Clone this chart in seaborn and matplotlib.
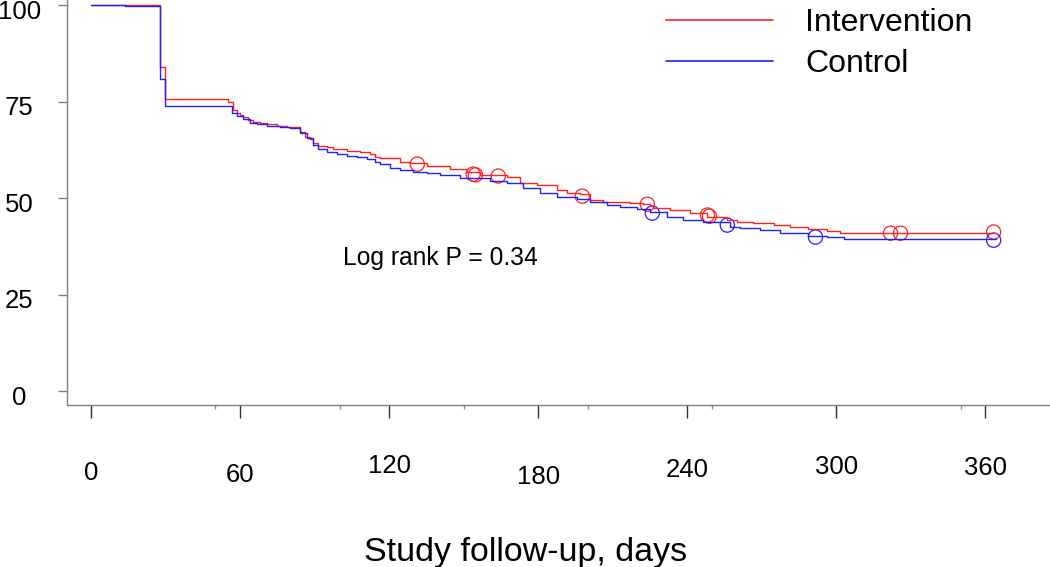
import matplotlib
matplotlib.use("Agg")
import matplotlib.pyplot as plt
import matplotlib.transforms as mtransforms
import numpy as np
import pandas as pd
import seaborn as sns

# ---------------- data ----------------
groups = ["Intervention", "Control"]

int_days = [0, 27.8, 29.8, 55.2, 57.2, 58.8, 60.0, 61.2, 63.2, 65.2, 68.1, 70.9, 74.9, 78.9,
            84.2, 86.2, 88.2, 89.4, 91.4, 95.0, 97.5, 103.1, 108.3, 112.4, 114.4, 116.4,
            124.4, 128.5, 135.3, 144.6, 151.4, 156.7, 167.5, 172.8, 179.6, 187.7, 191.7,
            196.9, 201.0, 206.2, 217.1, 222.3, 225.1, 226.3, 233.2, 241.2, 248.1, 256.1,
            260.2, 266.6, 274.7, 281.5, 288.4, 296.4, 301.6, 364.1]
int_surv = [100, 83.9, 75.6, 74.9, 72.8, 72.0, 71.5, 71.0, 70.2, 69.7, 69.4, 69.2, 68.7, 68.4,
            67.1, 65.8, 65.3, 64.2, 63.5, 63.2, 62.7, 62.2, 61.9, 61.4, 60.6, 60.4,
            59.3, 59.1, 58.3, 57.5, 56.7, 56.0, 55.4, 53.9, 53.4, 52.1, 51.3,
            51.0, 49.5, 49.0, 48.7, 48.4, 47.9, 47.4, 46.9, 46.1, 45.1, 44.3,
            43.8, 43.5, 43.0, 42.5, 42.0, 41.5, 40.9, 40.9]

ctl_days = [0, 13.7, 27.8, 29.8, 56.8, 58.8, 61.2, 64.0, 66.9, 70.9, 76.1, 80.1, 84.2, 87.0,
            89.4, 91.4, 95.0, 99.1, 103.1, 107.1, 111.2, 114.4, 116.4, 120.4, 124.4, 129.7,
            135.3, 140.6, 148.6, 160.7, 167.5, 174.0, 180.8, 187.7, 195.7, 201.0, 207.8,
            213.0, 219.9, 225.1, 232.0, 238.4, 246.5, 257.3, 261.4, 269.4, 277.5, 288.4,
            296.4, 302.9, 364.1]
ctl_surv = [100, 99.7, 80.8, 73.8, 72.0, 71.2, 70.5, 69.4, 69.2, 68.7, 68.4, 68.1, 66.8, 65.5,
            63.7, 62.7, 61.9, 61.4, 60.9, 60.6, 60.1, 59.3, 58.8, 57.8, 57.3, 56.7,
            56.5, 56.0, 55.2, 54.4, 53.9, 52.6, 51.3, 50.3, 49.7, 49.0, 48.2,
            47.7, 47.2, 46.4, 45.1, 44.3, 43.8, 42.5, 42.2, 41.7, 40.9, 40.2,
            39.9, 39.4, 39.4]

int_cens_days = [131.3, 153.8, 154.7, 163.9, 197.7, 223.9, 248.1, 248.9, 321.8, 325.8, 363.3]
int_cens_surv = [58.8, 56.2, 56.0, 55.7, 50.5, 48.4, 45.6, 45.3, 40.9, 40.9, 41.2]
ctl_cens_days = [225.9, 256.1, 291.6, 363.3]
ctl_cens_surv = [46.1, 43.0, 39.9, 39.1]

x_ticks = [0, 60, 120, 180, 240, 300, 360]
x_minor_ticks = [50, 100, 150, 200, 250, 350]
y_ticks = [0, 25, 50, 75, 100]
x_label = "Study follow-up, days"
p_text = "Log rank P = 0.34"

colors = {"Intervention": "#ff2020", "Control": "#2020ff"}

# ---------------- build frames ----------------
curves = pd.concat([
    pd.DataFrame({"day": int_days, "surv": int_surv, "group": groups[0]}),
    pd.DataFrame({"day": ctl_days, "surv": ctl_surv, "group": groups[1]}),
], ignore_index=True)
cens = pd.concat([
    pd.DataFrame({"day": int_cens_days, "surv": int_cens_surv, "group": groups[0]}),
    pd.DataFrame({"day": ctl_cens_days, "surv": ctl_cens_surv, "group": groups[1]}),
], ignore_index=True)

# ---------------- plot ----------------
sns.set_style("white")
plt.rcParams["font.family"] = ["Liberation Sans", "DejaVu Sans"]
plt.rcParams["text.color"] = "black"
plt.rcParams["axes.labelcolor"] = "black"
plt.rcParams["xtick.color"] = "black"
plt.rcParams["ytick.color"] = "black"

fig = plt.figure(figsize=(10.5, 5.67), dpi=100)
ax = fig.add_axes([67 / 1050, 1 - 405 / 567, 1 - 67 / 1050, 405 / 567])

sns.lineplot(data=curves, x="day", y="surv", hue="group", hue_order=groups,
             palette=colors, estimator=None, sort=False, drawstyle="steps-post",
             linewidth=1.0, ax=ax)
for g in groups:
    sub = cens[cens["group"] == g]
    sns.scatterplot(data=sub, x="day", y="surv", marker="o", s=105,
                    facecolors="none", edgecolor=colors[g], linewidth=0.9,
                    legend=False, ax=ax)

ax.set_xlim(-9.7, 386)
ax.set_ylim(-3.6, 101.3)

for s in ["top", "right"]:
    ax.spines[s].set_visible(False)
for s in ["left", "bottom"]:
    ax.spines[s].set_color("#808080")
    ax.spines[s].set_linewidth(1.0)

ax.set_yticks(y_ticks)
ax.set_yticklabels([str(v) for v in y_ticks])
ax.tick_params(axis="y", direction="out", length=6.5, width=1, color="#808080",
               pad=28, labelsize=18.5, labelcolor="black", left=True)
shift_down = mtransforms.ScaledTranslation(0, -4 / 100, fig.dpi_scale_trans)
for lbl in ax.get_yticklabels():
    lbl.set_ha("center")
    lbl.set_transform(lbl.get_transform() + shift_down)

ax.set_xticks(x_ticks)
ax.set_xticklabels([str(v) for v in x_ticks])
ax.set_xticks(x_minor_ticks, minor=True)
ax.tick_params(axis="x", which="major", direction="out", length=9, width=1,
               color="#303030", pad=31, labelsize=18.5, labelcolor="black", bottom=True)
ax.tick_params(axis="x", which="minor", direction="out", length=3, width=1,
               color="#909090", bottom=True)

# small vertical offsets of the x tick labels as in the reference
label_dy_px = [0, 2, -7, 4, -3, -6, -5]
for lbl, dy in zip(ax.get_xticklabels(), label_dy_px):
    lbl.set_y(-dy / 405)

ax.set_xlabel(x_label, fontsize=24.5)
ax.xaxis.set_label_coords((526 - 67) / 983, -0.325)
ax.set_ylabel("")

ax.text(101.5, 34.5, p_text, fontsize=17.7, ha="left", va="center")

handles, labels = ax.get_legend_handles_labels()
leg = ax.legend(handles, labels, loc="upper left", bbox_to_anchor=(666 / 1050, 0.986),
                bbox_transform=fig.transFigure, frameon=False, fontsize=23,
                handlelength=3.35, handletextpad=1.0, labelspacing=0.35,
                borderpad=0, borderaxespad=0)
for h in leg.get_lines():
    h.set_linewidth(1.2)

fig.savefig("out.png", dpi=100)
